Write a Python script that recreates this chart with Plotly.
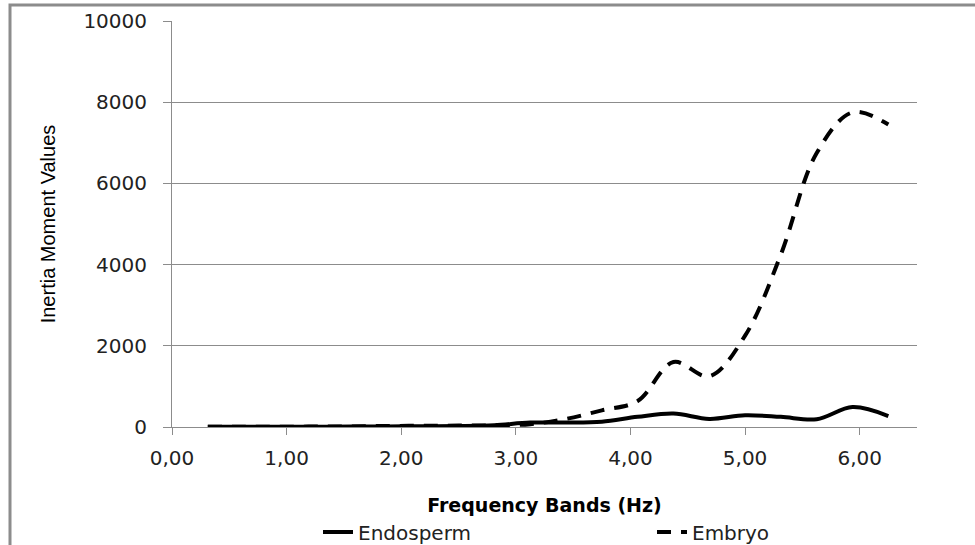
import plotly.graph_objects as go

# Frequency bands (Hz)
freq = [0.3125, 0.625, 0.9375, 1.25, 1.5625, 1.875, 2.1875, 2.5, 2.8125, 3.125,
        3.4375, 3.75, 4.0625, 4.375, 4.6875, 5.0, 5.3125, 5.625, 5.9375, 6.25]
endosperm = [5, 5, 5, 8, 10, 15, 20, 25, 45, 110,
             110, 130, 250, 330, 200, 290, 250, 190, 490, 270]
embryo = [5, 5, 8, 10, 15, 25, 30, 35, 40, 70,
          200, 410, 640, 1600, 1250, 2250, 4250, 6750, 7750, 7450]

x_ticks = [0, 1, 2, 3, 4, 5, 6]
y_ticks = [0, 2000, 4000, 6000, 8000, 10000]

W, H = 975, 545
L, R, T, B = 172, 917, 21, 427
GRAY = "#8c8c8c"
FONT = "DejaVu Sans"

fig = go.Figure()
fig.add_trace(go.Scatter(x=freq, y=endosperm, name="Endosperm", mode="lines", legend="legend",
                         line=dict(color="black", width=4, shape="spline", smoothing=1.0)))
fig.add_trace(go.Scatter(x=freq, y=embryo, name="Embryo", mode="lines", legend="legend2",
                         line=dict(color="black", width=4, shape="spline", smoothing=1.0,
                                   dash="14px,10px")))

def px_x(p):
    return (p - L) / (R - L)

def px_y(p):
    return (B - p) / (B - T)

# outer chart frame (cropped at right and bottom)
fig.add_shape(type="rect", xref="paper", yref="paper",
              x0=px_x(10), x1=px_x(1200), y0=px_y(800), y1=px_y(5),
              line=dict(color=GRAY, width=3), fillcolor="rgba(0,0,0,0)", layer="below")

leg_common = dict(orientation="h", yanchor="middle", y=px_y(532), xanchor="left",
                  font=dict(family=FONT, size=20, color="#222"),
                  bgcolor="rgba(0,0,0,0)", borderwidth=0)

fig.update_layout(
    width=W, height=H,
    margin=dict(l=L, r=W - R, t=T, b=H - B, autoexpand=False),
    paper_bgcolor="white", plot_bgcolor="white",
    separators=", ",
    showlegend=True,
    legend=dict(x=px_x(318), **leg_common),
    legend2=dict(x=px_x(652), **leg_common),
    xaxis=dict(range=[0, 6.5], tickvals=x_ticks, tickformat=".2f",
               showgrid=False, zeroline=False,
               showline=True, linecolor=GRAY, linewidth=1,
               ticks="outside", ticklen=7, tickcolor=GRAY, ticklabelstandoff=6,
               tickfont=dict(family=FONT, size=20, color="#222"),
               title=dict(text="<b>Frequency Bands (Hz)</b>", standoff=29,
                          font=dict(family=FONT, size=19, color="black"))),
    yaxis=dict(range=[0, 10000], tickvals=y_ticks, tickformat="d",
               showgrid=True, gridcolor=GRAY, gridwidth=1, zeroline=False,
               showline=True, linecolor=GRAY, linewidth=1,
               ticks="outside", ticklen=8, tickcolor=GRAY, ticklabelstandoff=12,
               tickfont=dict(family=FONT, size=20, color="#222"),
               title=dict(text="Inertia Moment Values", standoff=22,
                          font=dict(family="Liberation Sans Narrow, Liberation Sans", size=20,
                                    color="black"))),
)

fig.write_html("out.html")
